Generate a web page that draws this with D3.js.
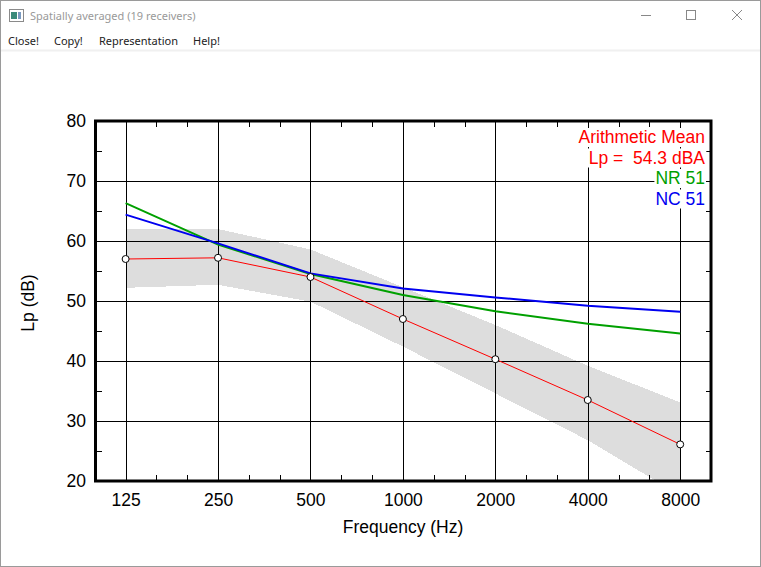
<!DOCTYPE html>
<html>
<head>
<meta charset="utf-8">
<script src="https://cdn.jsdelivr.net/npm/d3@7"></script>
<style>
  html, body { margin: 0; padding: 0; background: #fff; }
  svg { display: block; }
  .chrome-text { font-family: "Noto Sans", "Open Sans", sans-serif; font-size: 11px; }
  .chart-text { font-family: "Liberation Sans", Arial, sans-serif; font-size: 17.5px; fill: #000; }
</style>
</head>
<body>
<svg id="window" width="761" height="567"></svg>
<script>
// Spatially averaged spectrum, octave bands
const bands = [125, 250, 500, 1000, 2000, 4000, 8000];
const bandLabels = ['125', '250', '500', '1000', '2000', '4000', '8000'];
const yTicks = [20, 30, 40, 50, 60, 70, 80];

const meanLevels = [57.0, 57.2, 54.0, 47.0, 40.3, 33.5, 26.1];
const upperLevels = [62.0, 62.0, 58.6, 52.3, 46.0, 39.2, 33.1];
const lowerLevels = [52.2, 52.7, 49.9, 42.4, 34.6, 26.8, 17.6];
const nrLevels = [66.3, 59.4, 54.5, 51.0, 48.3, 46.2, 44.6];
const ncLevels = [64.4, 59.6, 54.6, 52.1, 50.6, 49.2, 48.2];

const legendLabels = ['Arithmetic Mean', 'Lp =  54.3 dBA', 'NR 51', 'NC 51'];
const menuItems = ['Close!', 'Copy!', 'Representation', 'Help!'];
const windowTitle = 'Spatially averaged (19 receivers)';

const svg = d3.select('#window');
const W = 761, H = 567;

// --- window chrome ---
svg.append('rect').attr('x', 0.5).attr('y', 0.5).attr('width', W - 1).attr('height', H - 1)
  .attr('fill', '#fff').attr('stroke', '#9a9a9a');

const icon = svg.append('g').attr('transform', 'translate(9,9)');
icon.append('rect').attr('x', 0.5).attr('y', 0.5).attr('width', 14).attr('height', 12)
  .attr('fill', '#fff').attr('stroke', '#8a8a8a');
icon.append('rect').attr('x', 2).attr('y', 3).attr('width', 6).attr('height', 7).attr('fill', '#3a8a7a');
icon.append('rect').attr('x', 9).attr('y', 3).attr('width', 3).attr('height', 7).attr('fill', '#7a9ac0');

svg.append('text').attr('class', 'chrome-text').attr('x', 30).attr('y', 20)
  .attr('fill', '#999').text(windowTitle);

// min / max / close glyphs
svg.append('line').attr('x1', 641).attr('x2', 651).attr('y1', 15.5).attr('y2', 15.5).attr('stroke', '#888');
svg.append('rect').attr('x', 686.5).attr('y', 10.5).attr('width', 9).attr('height', 9)
  .attr('fill', 'none').attr('stroke', '#888');
svg.append('path').attr('d', 'M732,10L742,20M742,10L732,20').attr('stroke', '#888');

const menuX = [8, 54, 99, 193];
menuItems.forEach((m, i) => {
  svg.append('text').attr('class', 'chrome-text').attr('x', menuX[i]).attr('y', 45)
    .attr('fill', '#222').text(m);
});
svg.append('rect').attr('x', 1).attr('y', 49.5).attr('width', W - 2).attr('height', 2).attr('fill', '#f0f0f0');

// --- plot ---
const third = Math.pow(2, 1 / 3);
const plotLeft = 95.5, plotRight = 711, plotTop = 121, plotBottom = 481;

const xScale = d3.scaleLog()
  .domain([bands[0] / third, bands[bands.length - 1] * third])
  .range([94.8, plotRight]);

const yScale = d3.scaleLinear()
  .domain([20, 80])
  .range([plotBottom, plotTop]);

svg.append('clipPath').attr('id', 'plot-clip')
  .append('rect').attr('x', plotLeft).attr('y', plotTop)
  .attr('width', plotRight - plotLeft).attr('height', plotBottom - plotTop);

const plot = svg.append('g').attr('clip-path', 'url(#plot-clip)');

// spread band
const bandData = bands.map((f, i) => ({ f, hi: upperLevels[i], lo: lowerLevels[i] }));
plot.append('path')
  .datum(bandData)
  .attr('fill', '#dddddd')
  .attr('shape-rendering', 'crispEdges')
  .attr('d', d3.area().x(d => xScale(d.f)).y0(d => yScale(d.lo)).y1(d => yScale(d.hi)));

// grid
const grid = plot.append('g').attr('stroke', '#000').attr('stroke-width', 1).attr('shape-rendering', 'crispEdges');
bands.forEach(f => {
  const x = Math.round(xScale(f)) + 0.5;
  grid.append('line').attr('x1', x).attr('x2', x).attr('y1', plotTop).attr('y2', plotBottom);
});
yTicks.slice(1, -1).forEach(v => {
  const y = Math.round(yScale(v)) + 0.5;
  grid.append('line').attr('x1', plotLeft).attr('x2', plotRight).attr('y1', y).attr('y2', y);
});

// minor ticks: third octaves on top / bottom, 5 dB on left / right
const thirdOctaves = d3.range(1, 18).filter(k => k % 3 !== 0).map(k => bands[0] * Math.pow(2, k / 3));
thirdOctaves.forEach(f => {
  const x = Math.round(xScale(f)) + 0.5;
  grid.append('line').attr('x1', x).attr('x2', x).attr('y1', plotTop).attr('y2', plotTop + 6);
  grid.append('line').attr('x1', x).attr('x2', x).attr('y1', plotBottom - 6).attr('y2', plotBottom);
});
d3.range(25, 80, 10).forEach(v => {
  const y = Math.round(yScale(v)) + 0.5;
  grid.append('line').attr('x1', plotLeft).attr('x2', plotLeft + 6).attr('y1', y).attr('y2', y);
  grid.append('line').attr('x1', plotRight - 5).attr('x2', plotRight).attr('y1', y).attr('y2', y);
});

// curves
const lineGen = d3.line().x(d => xScale(d[0])).y(d => yScale(d[1]));
const series = (vals) => bands.map((f, i) => [f, vals[i]]);

plot.append('path').datum(series(nrLevels))
  .attr('fill', 'none').attr('stroke', '#00a000').attr('stroke-width', 2)
  .attr('d', lineGen);
plot.append('path').datum(series(ncLevels))
  .attr('fill', 'none').attr('stroke', '#0000f0').attr('stroke-width', 2)
  .attr('d', lineGen);
plot.append('path').datum(series(meanLevels))
  .attr('fill', 'none').attr('stroke', '#ff0000').attr('stroke-width', 1)
  .attr('d', lineGen);

plot.selectAll('circle.mean')
  .data(series(meanLevels))
  .join('circle')
  .attr('class', 'mean')
  .attr('cx', d => xScale(d[0]))
  .attr('cy', d => yScale(d[1]))
  .attr('r', 3.5)
  .attr('fill', '#fff')
  .attr('stroke', '#000')
  .attr('stroke-width', 1);

// legend, right aligned with opaque background
const legendColors = ['#ff0000', '#ff0000', '#00a000', '#0000f0'];
legendLabels.forEach((label, i) => {
  const g = svg.append('g');
  const t = g.append('text')
    .attr('class', 'chart-text')
    .attr('x', 705)
    .attr('y', 143 + i * 20.5)
    .attr('text-anchor', 'end')
    .style('white-space', 'pre')
    .style('fill', legendColors[i])
    .text(label);
  const bb = t.node().getBBox();
  g.insert('rect', 'text')
    .attr('x', bb.x - 1).attr('y', bb.y + 1)
    .attr('width', bb.width + 2).attr('height', bb.height - 1)
    .attr('fill', '#fff');
});

// frame
svg.append('rect')
  .attr('x', plotLeft).attr('y', plotTop)
  .attr('width', plotRight - plotLeft).attr('height', plotBottom - plotTop)
  .attr('fill', 'none').attr('stroke', '#000').attr('stroke-width', 3);

// axis labels
svg.selectAll('text.ytick')
  .data(yTicks)
  .join('text')
  .attr('class', 'chart-text ytick')
  .attr('x', 86)
  .attr('y', d => yScale(d) + 6)
  .attr('text-anchor', 'end')
  .text(d => d);

svg.selectAll('text.xtick')
  .data(bands)
  .join('text')
  .attr('class', 'chart-text xtick')
  .attr('x', d => xScale(d) + 0.5)
  .attr('y', 506)
  .attr('text-anchor', 'middle')
  .text((d, i) => bandLabels[i]);

svg.append('text')
  .attr('class', 'chart-text')
  .attr('x', 403)
  .attr('y', 533)
  .attr('text-anchor', 'middle')
  .text('Frequency (Hz)');

svg.append('text')
  .attr('class', 'chart-text')
  .attr('transform', 'translate(34,303) rotate(-90)')
  .attr('text-anchor', 'middle')
  .text('Lp (dB)');
</script>
</body>
</html>
